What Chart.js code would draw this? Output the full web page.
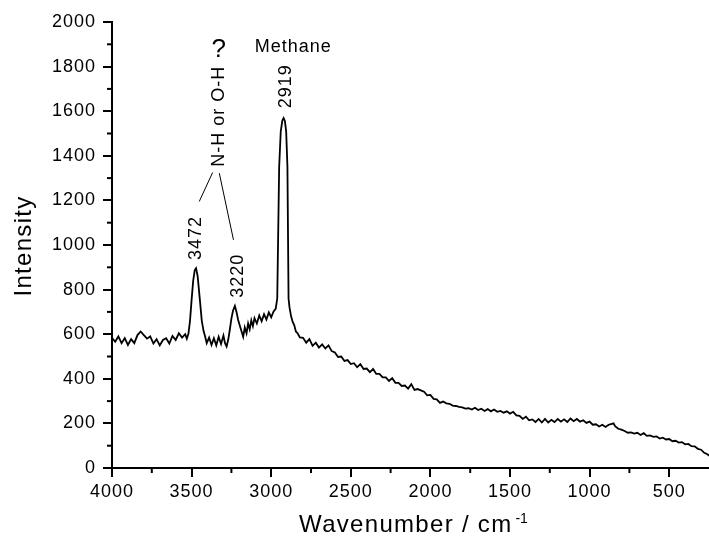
<!DOCTYPE html>
<html>
<head>
<meta charset="utf-8">
<script src="https://cdn.jsdelivr.net/npm/chart.js@4.4.1/dist/chart.umd.min.js"></script>
<style>
  html, body { margin: 0; padding: 0; background: #fff; }
  canvas { display: block; }
</style>
</head>
<body>
<canvas id="spectrum" width="709" height="540"></canvas>
<script>
// raman spectrum
const wavenumber = [
    4000, 3980, 3960, 3940, 3920, 3900, 3880, 3860, 3840, 3820,
    3800, 3780, 3760, 3740, 3720, 3700, 3680, 3660, 3640, 3620,
    3600, 3580, 3560, 3540, 3530, 3520, 3510, 3500, 3490, 3480,
    3472, 3462, 3448, 3436, 3425, 3415, 3405, 3390, 3375, 3360,
    3345, 3330, 3315, 3300, 3290, 3280, 3270, 3260, 3250, 3240,
    3228, 3218, 3208, 3198, 3186, 3176, 3166, 3155, 3145, 3135,
    3125, 3115, 3105, 3090, 3075, 3060, 3045, 3030, 3015, 3000,
    2985, 2972, 2962, 2950, 2940, 2930, 2922, 2914, 2906, 2898,
    2891, 2885, 2875, 2865, 2855, 2845, 2835, 2820, 2800, 2780,
    2760, 2740, 2720, 2700, 2680, 2660, 2640, 2620, 2600, 2580,
    2560, 2540, 2520, 2500, 2480, 2460, 2440, 2420, 2400, 2380,
    2360, 2340, 2320, 2300, 2280, 2260, 2240, 2220, 2200, 2180,
    2160, 2140, 2120, 2100, 2080, 2060, 2040, 2020, 2000, 1980,
    1960, 1940, 1920, 1900, 1880, 1860, 1840, 1820, 1800, 1780,
    1760, 1740, 1720, 1700, 1680, 1660, 1640, 1620, 1600, 1580,
    1560, 1540, 1520, 1500, 1480, 1460, 1440, 1420, 1400, 1380,
    1360, 1340, 1320, 1300, 1280, 1260, 1240, 1220, 1200, 1180,
    1160, 1140, 1120, 1100, 1080, 1060, 1040, 1020, 1000, 980,
    960, 940, 920, 900, 880, 860, 850, 840, 820, 800,
    780, 760, 740, 720, 700, 680, 660, 640, 620, 600,
    580, 560, 540, 520, 500, 480, 460, 440, 420, 400,
    380, 360, 340, 320, 300, 280, 260, 250
];
const intensity = [
    584, 566, 590, 560, 582, 552, 578, 560, 596, 612,
    596, 580, 590, 558, 578, 550, 574, 582, 558, 592,
    574, 604, 585, 600, 580, 602, 660, 754, 840, 888,
    896, 860, 754, 660, 615, 590, 560, 585, 552, 582,
    550, 588, 556, 594, 560, 545, 575, 620, 670, 705,
    727, 700, 665, 640, 612, 588, 630, 604, 648, 622,
    662, 636, 672, 648, 684, 658, 690, 666, 698, 676,
    702, 714, 760, 1350, 1510, 1558, 1569, 1556, 1510, 1350,
    760, 720, 680, 655, 640, 612, 605, 586, 584, 562,
    578, 548, 562, 540, 554, 536, 550, 524, 518, 498,
    500, 480, 484, 466, 470, 452, 466, 444, 446, 430,
    444, 422, 422, 406, 406, 390, 403, 382, 382, 368,
    370, 356, 376, 350, 354, 348, 342, 326, 328, 310,
    308, 292, 298, 290, 288, 280, 278, 274, 272, 266,
    268, 262, 270, 260, 266, 256, 264, 254, 262, 252,
    256, 248, 254, 244, 252, 236, 234, 220, 230, 214,
    218, 206, 220, 204, 220, 204, 216, 206, 220, 208,
    218, 206, 222, 210, 220, 208, 214, 202, 208, 194,
    196, 186, 194, 184, 194, 198, 200, 188, 176, 172,
    166, 158, 160, 154, 158, 148, 156, 144, 146, 140,
    142, 132, 136, 128, 130, 120, 122, 114, 116, 106,
    108, 98, 97, 86, 82, 68, 62, 55
];

const xTicks = [4000, 3500, 3000, 2500, 2000, 1500, 1000, 500];
const xMinor = [3750, 3250, 2750, 2250, 1750, 1250, 750];
const yTicks = [0, 200, 400, 600, 800, 1000, 1200, 1400, 1600, 1800, 2000];
const yMinor = [100, 300, 500, 700, 900, 1100, 1300, 1500, 1700, 1900];

// peak labels (vertical text), anchored where the text starts
const peakText = ["3472", "3220", "2919", "N-H or O-H"];
const peakWave = [3471, 3210, 2906, 3326];
const peakStart = [933, 763, 1613, 1351];

// plain labels
const noteText = ["?", "Methane"];
const noteWave = [3326, 2862];
const noteBase = [1843, 1867];
const noteSize = [26, 18];

// leader lines from the N-H / O-H label
const leadWaveA = [3452, 3326];
const leadIntA = [1195, 1322];
const leadWaveB = [3368, 3237];
const leadIntB = [1325, 1023];

const FONT = "'Liberation Sans', Arial, sans-serif";

const spacing = {
    id: "spacing",
    beforeDraw(chart) {
        chart.ctx.letterSpacing = "1px";
    }
};

const extras = {
    id: "extras",
    afterDraw(chart) {
        const ctx = chart.ctx;
        const x = chart.scales.x;
        const y = chart.scales.y;
        const area = chart.chartArea;
        ctx.save();
        ctx.strokeStyle = "#000";
        ctx.fillStyle = "#000";

        // minor ticks
        ctx.lineWidth = 2;
        yMinor.forEach(v => {
            const py = y.getPixelForValue(v);
            ctx.beginPath();
            ctx.moveTo(area.left - 5, py);
            ctx.lineTo(area.left, py);
            ctx.stroke();
        });
        xMinor.forEach(v => {
            const px = x.getPixelForValue(v);
            ctx.beginPath();
            ctx.moveTo(px, area.bottom);
            ctx.lineTo(px, area.bottom + 5);
            ctx.stroke();
        });

        // leader lines
        ctx.lineWidth = 1;
        for (let i = 0; i < leadWaveA.length; i++) {
            ctx.beginPath();
            ctx.moveTo(x.getPixelForValue(leadWaveA[i]), y.getPixelForValue(leadIntA[i]));
            ctx.lineTo(x.getPixelForValue(leadWaveB[i]), y.getPixelForValue(leadIntB[i]));
            ctx.stroke();
        }

        // vertical peak labels
        ctx.letterSpacing = "1px";
        ctx.font = "18px " + FONT;
        for (let i = 0; i < peakText.length; i++) {
            ctx.save();
            ctx.translate(x.getPixelForValue(peakWave[i]), y.getPixelForValue(peakStart[i]));
            ctx.rotate(-Math.PI / 2);
            ctx.textAlign = "left";
            ctx.textBaseline = "middle";
            ctx.fillText(peakText[i], 0, 0);
            ctx.restore();
        }

        for (let i = 0; i < noteText.length; i++) {
            ctx.font = noteSize[i] + "px " + FONT;
            ctx.textAlign = "center";
            ctx.textBaseline = "alphabetic";
            ctx.fillText(noteText[i], x.getPixelForValue(noteWave[i]), y.getPixelForValue(noteBase[i]));
        }

        // axis titles
        ctx.font = "24px " + FONT;
        ctx.letterSpacing = "1.3px";
        ctx.save();
        ctx.translate(31, (area.top + area.bottom) / 2 + 1);
        ctx.rotate(-Math.PI / 2);
        ctx.textAlign = "center";
        ctx.fillText("Intensity", 0, 0);
        ctx.restore();

        const main = "Wavenumber / cm";
        const sup = "-1";
        const wMain = ctx.measureText(main).width;
        ctx.font = "14px " + FONT;
        ctx.letterSpacing = "0px";
        const wSup = ctx.measureText(sup).width;
        const cx = (area.left + area.right) / 2 + 3;
        const startX = cx - (wMain + wSup + 3) / 2;
        const base = 532;
        ctx.textAlign = "left";
        ctx.font = "24px " + FONT;
        ctx.letterSpacing = "1.3px";
        ctx.fillText(main, startX, base);
        ctx.font = "14px " + FONT;
        ctx.letterSpacing = "0px";
        ctx.fillText(sup, startX + wMain + 3, base - 9);
        ctx.restore();
    }
};

const points = wavenumber.map((w, i) => ({ x: w, y: intensity[i] }));

new Chart(document.getElementById("spectrum"), {
    type: "line",
    data: {
        datasets: [{
            data: points,
            borderColor: "#000",
            borderWidth: 1.8,
            pointRadius: 0,
            tension: 0,
            fill: false
        }]
    },
    options: {
        responsive: false,
        animation: false,
        events: [],
        layout: { padding: { top: 22, right: 0, left: 0, bottom: 0 } },
        plugins: {
            legend: { display: false },
            tooltip: { enabled: false }
        },
        scales: {
            x: {
                type: "linear",
                reverse: true,
                min: 250,
                max: 4000,
                border: { display: true, color: "#000", width: 2 },
                grid: { drawOnChartArea: false, drawTicks: true, tickLength: 9, color: "#000", lineWidth: 2 },
                ticks: {
                    color: "#000", font: { family: FONT, size: 18 }, padding: 4, maxRotation: 0, autoSkip: false,
                    callback: v => String(v)
                },
                afterBuildTicks: s => { s.ticks = xTicks.map(v => ({ value: v })); },
                afterFit: s => { s.height = 72; }
            },
            y: {
                min: 0,
                max: 2000,
                border: { display: true, color: "#000", width: 2 },
                grid: { drawOnChartArea: false, drawTicks: true, tickLength: 9, color: "#000", lineWidth: 2 },
                ticks: { color: "#000", font: { family: FONT, size: 18 }, padding: 7, callback: v => String(v) },
                afterBuildTicks: s => { s.ticks = yTicks.map(v => ({ value: v })); },
                afterFit: s => { s.width = 112; }
            }
        }
    },
    plugins: [spacing, extras]
});
</script>
</body>
</html>
